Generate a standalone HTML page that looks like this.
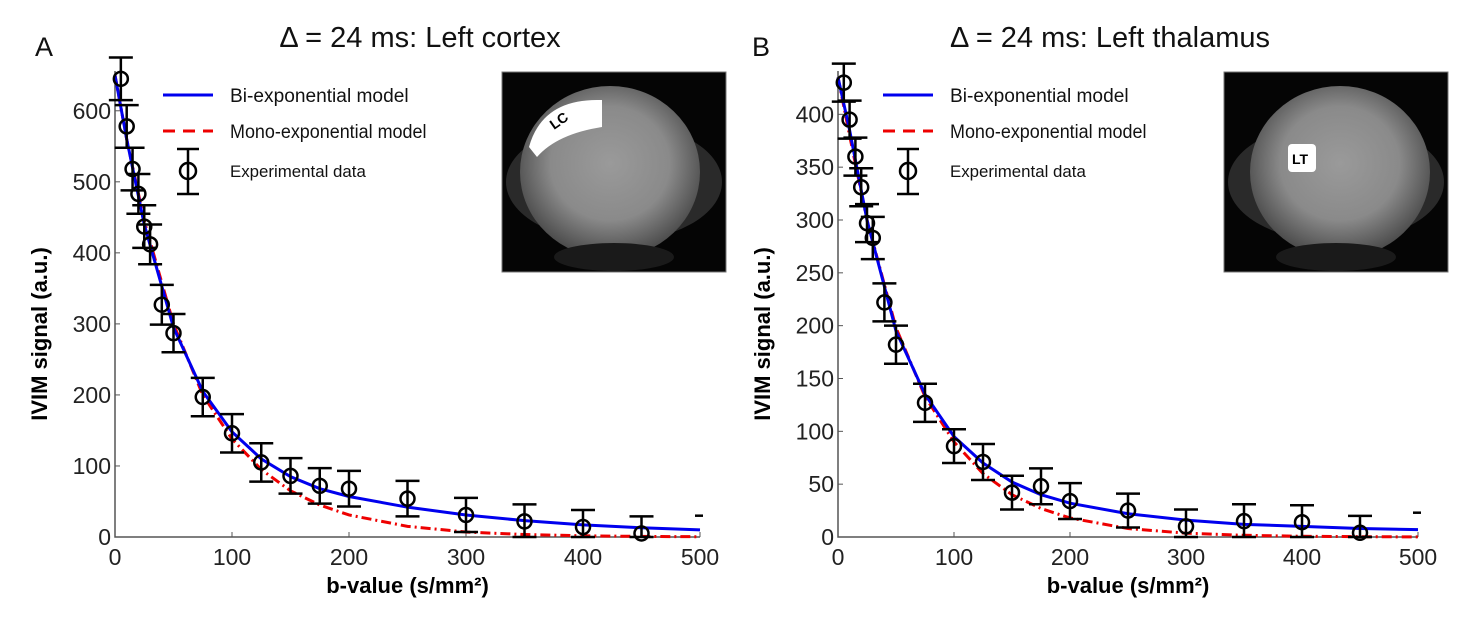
<!DOCTYPE html>
<html><head><meta charset="utf-8"><style>
body{margin:0;background:#fff;}
svg{display:block;font-family:"Liberation Sans",sans-serif;}
</style></head><body>
<svg id="fig" width="1482" height="624" viewBox="0 0 1482 624">
<defs>
<radialGradient id="brain" cx="50%" cy="45%" r="55%"><stop offset="0" stop-color="#9a9a9a"/><stop offset="0.6" stop-color="#8a8a8a"/><stop offset="1" stop-color="#4a4a4a"/></radialGradient>
</defs>
</svg>
<script>
const NS='http://www.w3.org/2000/svg';
const svg=document.getElementById('fig');
// ---- Panel A data ----
const bA=[5,10,15,20,25,30,40,50,75,100,125,150,175,200,250,300,350,400,450];
const meanA=[645,578,518,483,437,412,327,287,197,146,105,86,72,68,54,31,22,14,5];
const errA=[30,30,30,28,30,28,28,27,27,27,27,25,25,25,25,24,24,24,24];
const curveBA=[0,10,25,50,75,100,125,150,175,200,250,300,350,400,450,500];
const biA=[650,560,440,295,205,148,110,85,68,57,42,31,23,17,13,10];
const monoA=[650,560,445,300,200,138,95,65,45,31,15,7,3.5,1.7,0.8,0.4];
const yTicksA=[0,100,200,300,400,500,600];
// ---- Panel B data ----
const bB=[5,10,15,20,25,30,40,50,75,100,125,150,175,200,250,300,350,400,450];
const meanB=[430,395,360,331,297,283,222,182,127,86,71,42,48,34,25,10,15,14,4];
const errB=[18,18,18,18,18,20,18,18,18,16,17,16,17,17,16,16,16,16,16];
const curveBB=[0,10,25,50,75,100,125,150,175,200,250,300,350,400,450,500];
const biB=[435,385,300,195,135,95,70,52,40,32,22,16,12,10,8,7];
const monoB=[435,380,300,198,133,90,60,40,27,18,8,3.6,1.6,0.7,0.3,0.1];
const yTicksB=[0,50,100,150,200,250,300,350,400];
const xTicks=[0,100,200,300,400,500];

function el(tag,attrs,parent){const e=document.createElementNS(NS,tag);for(const k in attrs)e.setAttribute(k,attrs[k]);(parent||svg).appendChild(e);return e;}

function panel(o){
  const g=el('g',{});
  
  
  const X=v=>o.x0+(v/500)*(o.x1-o.x0);
  const Y=v=>o.y0-(v/o.ymax)*(o.y0-o.yTop);
  const ax=el('path',{d:`M${o.x0} ${o.yTop} V${o.y0} H${o.x1}`,stroke:'#555','stroke-width':1.5,fill:'none'},g);
  
  
  o.yTicks.forEach(t=>{
    el('line',{x1:o.x0,x2:o.x0+5,y1:Y(t),y2:Y(t),stroke:'#555'},g);
    const tx=el('text',{x:o.x0-4,y:Y(t)+8,'text-anchor':'end','font-size':23,fill:'#222'},g);
    tx.textContent=t;
    
    
  });
  xTicks.forEach(t=>{
    el('line',{x1:X(t),x2:X(t),y1:o.y0,y2:o.y0-5,stroke:'#555'},g);
    const tx=el('text',{x:X(t),y:o.y0+28,'text-anchor':'middle','font-size':23,fill:'#222'},g);
    tx.textContent=t;
    
    
  });
  const xl=el('text',{x:(o.x0+o.x1)/2,y:o.y0+56,'text-anchor':'middle','font-size':22,'font-weight':'bold'},g);
  xl.textContent='b-value (s/mm²)';
  
  
  const yl=el('text',{transform:`translate(${o.x0-68},${(o.y0+o.yTop)/2+30}) rotate(-90)`,'text-anchor':'middle','font-size':22,'font-weight':'bold'},g);
  yl.textContent='IVIM signal (a.u.)';
  
  
  const mono=el('polyline',{points:o.cb.map((b,i)=>X(b)+','+Y(o.mono[i])).join(' '),fill:'none',stroke:'#e00','stroke-width':3,'stroke-dasharray':'10 4 2 4'},g);
  
  
  const bi=el('polyline',{points:o.cb.map((b,i)=>X(b)+','+Y(o.bi[i])).join(' '),fill:'none',stroke:'#0000ee','stroke-width':3},g);
  
  
  o.b.forEach((b,i)=>{
    const pg=el('g',{stroke:'#000','stroke-width':2.5,fill:'none'},g);
    
    
    const x=X(b),yt=Y(o.mean[i]+o.err[i]),yb=Y(Math.max(o.mean[i]-o.err[i],0));
    el('line',{x1:x,x2:x,y1:yt,y2:yb},pg);
    el('line',{x1:x-12,x2:x+12,y1:yt,y2:yt},pg);
    el('line',{x1:x-12,x2:x+12,y1:yb,y2:yb},pg);
    el('circle',{cx:x,cy:Y(o.mean[i]),r:7},pg);
  });
  el('line',{x1:X(500)-5,x2:X(500)+3,y1:Y(o.dash),y2:Y(o.dash),stroke:'#000','stroke-width':2.5},g);
  const L=o.lx0;
  const lg=el('g',{},g);
  
  
  el('line',{x1:L,x2:L+50,y1:95,y2:95,stroke:'#0000ee','stroke-width':3},lg);
  el('line',{x1:L,x2:L+50,y1:131,y2:131,stroke:'#e00','stroke-width':3,'stroke-dasharray':'12 8'},lg);
  const eg=el('g',{stroke:'#000','stroke-width':2.5,fill:'none'},lg);
  el('line',{x1:L+25,x2:L+25,y1:149,y2:194},eg);el('line',{x1:L+14,x2:L+36,y1:149,y2:149},eg);el('line',{x1:L+14,x2:L+36,y1:194,y2:194},eg);el('circle',{cx:L+25,cy:171,r:8},eg);
  [['Bi-exponential model',102,19],['Mono-exponential model',138,19],['Experimental data',177,17]].forEach(([t,y,fs])=>{
    const tx=el('text',{x:L+67,y:y,'font-size':fs,fill:'#111','textLength':t.length*fs*0.47,'lengthAdjust':'spacingAndGlyphs'},lg);tx.textContent=t;
    
    
  });
  const ti=el('text',{x:o.tx,y:47,'text-anchor':'middle','font-size':29,fill:'#111'},g);
  ti.textContent=o.title;
  
  
  const le=el('text',{x:o.lx,y:56,'font-size':27,fill:'#111'},g);
  le.textContent=o.letter;
  
  
  const ig=el('g',{},g);
  
  
  const ix=o.ix,iy=72,iw=224,ih=200;
  el('rect',{x:ix,y:iy,width:iw,height:ih,fill:'#050505',stroke:'#777'},ig);
  el('ellipse',{cx:ix+iw/2,cy:iy+110,rx:108,ry:60,fill:'#2a2a2a'},ig);
  el('ellipse',{cx:ix+iw/2+(o.letter==='A'?-4:4),cy:iy+100,rx:90,ry:86,fill:'url(#brain)'},ig);
  el('ellipse',{cx:ix+iw/2,cy:iy+185,rx:60,ry:14,fill:'#1a1a1a'},ig);
  if(o.letter==='A'){
    el('path',{d:`M${ix+27} ${iy+75} Q${ix+40} ${iy+28} ${ix+95} ${iy+28} L${ix+100} ${iy+28} L${ix+100} ${iy+55} Q${ix+55} ${iy+62} ${ix+35} ${iy+85} Z`,fill:'#fff'},ig);
    const t=el('text',{transform:`translate(${ix+52},${iy+58}) rotate(-35)`,'font-size':14,'font-weight':'bold'},ig);t.textContent='LC';
  } else {
    el('rect',{x:ix+64,y:iy+72,width:28,height:28,rx:4,fill:'#fff'},ig);
    const t=el('text',{x:ix+68,y:iy+92,'font-size':14,'font-weight':'bold'},ig);t.textContent='LT';
  }
}
panel({name:'panel-a-left-cortex',x0:115,x1:700,y0:537,yTop:71,ymax:656,yTicks:yTicksA,b:bA,mean:meanA,err:errA,cb:curveBA,bi:biA,mono:monoA,dash:30,title:'Δ = 24 ms: Left cortex',tx:420,letter:'A',lx:35,ix:502,lx0:163});
panel({name:'panel-b-left-thalamus',x0:838,x1:1418,y0:537,yTop:71,ymax:441,yTicks:yTicksB,b:bB,mean:meanB,err:errB,cb:curveBB,bi:biB,mono:monoB,dash:23,title:'Δ = 24 ms: Left thalamus',tx:1110,letter:'B',lx:752,ix:1224,lx0:883});
</script>
</body></html>
